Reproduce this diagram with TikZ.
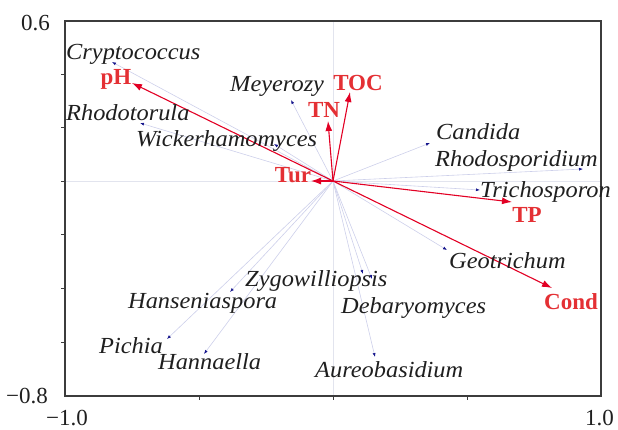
\documentclass[tikz,border=0pt]{standalone}
\usepackage{fontspec}
\setmainfont{Liberation Serif}
\newfontfamily\spfont[FakeStretch=1.06]{Liberation Serif Italic}
\usetikzlibrary{arrows.meta}
\definecolor{envred}{RGB}{226,0,36}
\definecolor{labred}{RGB}{228,48,52}
\definecolor{spline}{RGB}{205,207,234}
\definecolor{gridc}{RGB}{226,228,238}
\definecolor{navy}{RGB}{20,20,140}
\definecolor{framec}{RGB}{60,60,60}
\tikzset{
  envarrow/.style={draw=envred, line width=1.1bp, -{Latex[length=10bp,width=7bp]}},
  sparrow/.style={draw=spline, line width=0.6bp, -{Latex[length=4bp,width=3bp,color=navy]}},
  splab/.style={anchor=base west, inner sep=0pt, font=\spfont\fontsize{23bp}{27bp}\selectfont, text=black!88},
  envlab/.style={anchor=base, inner sep=0pt, font=\fontsize{23bp}{27bp}\selectfont\bfseries, text=labred},
  axlab/.style={anchor=base west, inner sep=0pt, font=\fontsize{23bp}{27bp}\selectfont, text=black!88},
}
\begin{document}
\begin{tikzpicture}[x=1bp,y=-1bp]
\useasboundingbox (0,0) rectangle (618,429);
% frame coordinates
\coordinate (TL) at (65,21);
\coordinate (BR) at (601,396);
\coordinate (O) at (333,181);
% grid lines through origin
\coordinate (gL) at (65,181); \coordinate (gR) at (601,181);
\coordinate (gT) at (333,21); \coordinate (gB) at (333,396);
\draw[gridc, line width=0.8bp] (gL) -- (gR);
\draw[gridc, line width=0.8bp] (gT) -- (gB);
% species vectors
\coordinate (cry) at (112,62);
\coordinate (rho) at (140,123);
\coordinate (wic) at (274,144);
\coordinate (mey) at (291,100);
\coordinate (can) at (430,143);
\coordinate (rsp) at (583,169);
\coordinate (tri) at (480,190);
\coordinate (geo) at (447,250);
\coordinate (zyg) at (363,274);
\coordinate (deb) at (372,279);
\coordinate (aur) at (375,357);
\coordinate (han) at (230,292);
\coordinate (pic) at (167,339);
\coordinate (hna) at (204,354);
\foreach \s in {cry,rho,wic,mey,can,rsp,tri,geo,zyg,deb,aur,han,pic,hna}
  \draw[sparrow] (O) -- (\s);
% environmental vectors
\coordinate (pH) at (132,83);
\coordinate (tur) at (311,181);
\coordinate (tn) at (328,121);
\coordinate (toc) at (350,92);
\coordinate (tp) at (512,202);
\coordinate (cond) at (552,288);
\foreach \e in {pH,tur,tn,toc,tp,cond}
  \draw[envarrow] (O) -- (\e);
% frame and ticks
\draw[framec, line width=1.3bp] (TL) rectangle (BR);
\foreach \y [count=\i] in {74,127,181,234,288,342} {
  \coordinate (ly\i) at (65,\y); \coordinate (lx\i) at (61,\y);
  \draw[framec, line width=1bp] (ly\i) -- (lx\i);
}
\foreach \x [count=\i] in {199,333,467} {
  \coordinate (bx\i) at (\x,396); \coordinate (by\i) at (\x,400);
  \draw[framec, line width=1bp] (bx\i) -- (by\i);
}
% axis labels
\node[axlab] (a06) at (21,30) {0.6};
\node[axlab] (a08) at (6,403) {−0.8};
\node[axlab] (am10) at (46,425) {−1.0};
\node[axlab] (ap10) at (585,425) {1.0};
% environmental labels
\node[envlab] (lpH) at (116,84) {pH};
\node[envlab] (ltur) at (293,182) {Tur};
\node[envlab] (ltn) at (324,117) {TN};
\node[envlab] (ltoc) at (358,90) {TOC};
\node[envlab] (ltp) at (527,222) {TP};
\node[envlab] (lcond) at (571,309) {Cond};
% species labels
\node[splab] (lcry) at (66,59) {Cryptococcus};
\node[splab] (lrho) at (66,120) {Rhodotorula};
\node[splab] (lwic) at (136,146) {Wickerhamomyces};
\node[splab] (lmey) at (230,91) {Meyerozy};
\node[splab] (lcan) at (436,139) {Candida};
\node[splab] (lrsp) at (435,166) {Rhodosporidium};
\node[splab] (ltri) at (480,197) {Trichosporon};
\node[splab] (lgeo) at (449,268) {Geotrichum};
\node[splab] (lzyg) at (245,286) {Zygowilliopsis};
\node[splab] (ldeb) at (341,313) {Debaryomyces};
\node[splab] (laur) at (315,377) {Aureobasidium};
\node[splab] (lhan) at (128,308) {Hanseniaspora};
\node[splab] (lpic) at (99,353) {Pichia};
\node[splab] (lhna) at (158,369) {Hannaella};
\end{tikzpicture}
\end{document}
